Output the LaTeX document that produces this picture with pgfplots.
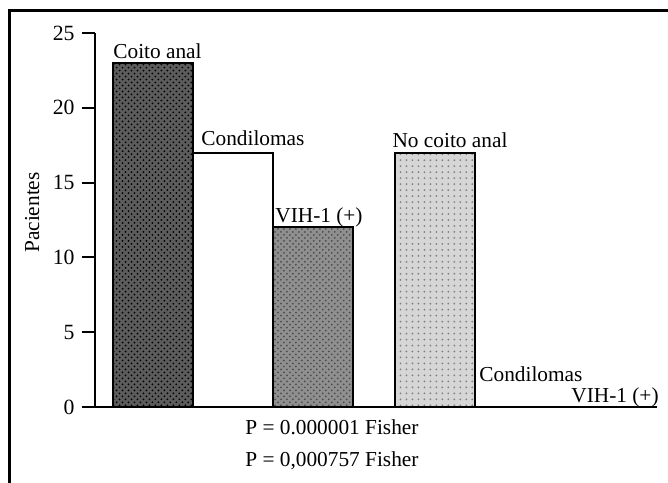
\documentclass[border=0pt]{standalone}
\usepackage{pgfplots}
\pgfplotsset{compat=1.18}
\usepackage{fontspec}
\setmainfont{Liberation Serif}
\usetikzlibrary{patterns}
\begin{document}
\fontsize{10.7}{12.8}\selectfont
\begin{tikzpicture}
\path[use as bounding box] (-47.5bp,-38bp) rectangle (286.5bp,203.5bp);
\begin{axis}[
  at={(0,0)}, anchor=south west,
  scale only axis, width=281bp, height=187bp,
  xmin=0.275, xmax=7.3, ymin=0, ymax=25,
  axis lines=left, axis line style={line width=1bp, -},
  xtick=\empty,
  ytick={0,5,10,15,20,25},
  tick align=outside, major tick length=6.5bp,
  tick style={line width=1bp, black},
  /pgf/number format/assume math mode=true,
  ticklabel style={font=\fontsize{10.9}{12.8}\selectfont},
  ylabel={Pacientes},
  ylabel style={font=\fontsize{10.7}{12.8}\selectfont},
  every axis y label/.style={at={(axis description cs:-0.112,0.52)}, anchor=center, rotate=90},
  ybar, bar width=1, bar shift=0pt,
  clip=false,
  every axis plot/.append style={draw=black, line width=1bp},
]
\addplot[fill=black!64, postaction={pattern=crosshatch dots, pattern color=black}] coordinates {(1,23)};
\addplot[fill=white] coordinates {(2,17)};
\addplot[fill=black!44, postaction={pattern=crosshatch dots, pattern color=black!70}] coordinates {(3,12)};
\addplot[fill=black!16, postaction={pattern=dots, pattern color=black!50}] coordinates {(4.525,17)};
\node[anchor=base west, inner sep=0pt] at (axis cs:0.5,23.3) {Coito anal};
\node[anchor=base west, inner sep=0pt] at (axis cs:1.6,17.5) {Condilomas};
\node[anchor=base west, inner sep=0pt] at (axis cs:2.525,12.3) {VIH-1 (+)};
\node[anchor=base west, inner sep=0pt] at (axis cs:3.99,17.35) {No coito anal};
\node[anchor=base west, inner sep=0pt] at (axis cs:5.075,1.73) {Condilomas};
\node[anchor=base west, inner sep=0pt] at (axis cs:6.225,0.33) {VIH-1 (+)};
\node[anchor=base west, inner sep=0pt] at (axis cs:2.15,-1.87) {P = 0.000001 Fisher};
\node[anchor=base west, inner sep=0pt] at (axis cs:2.15,-4.0) {P = 0,000757 Fisher};
\end{axis}
\draw[line width=1.5bp] (-42.5bp,-40bp) -- (-42.5bp,198bp) -- (290bp,198bp);
\end{tikzpicture}
\end{document}
